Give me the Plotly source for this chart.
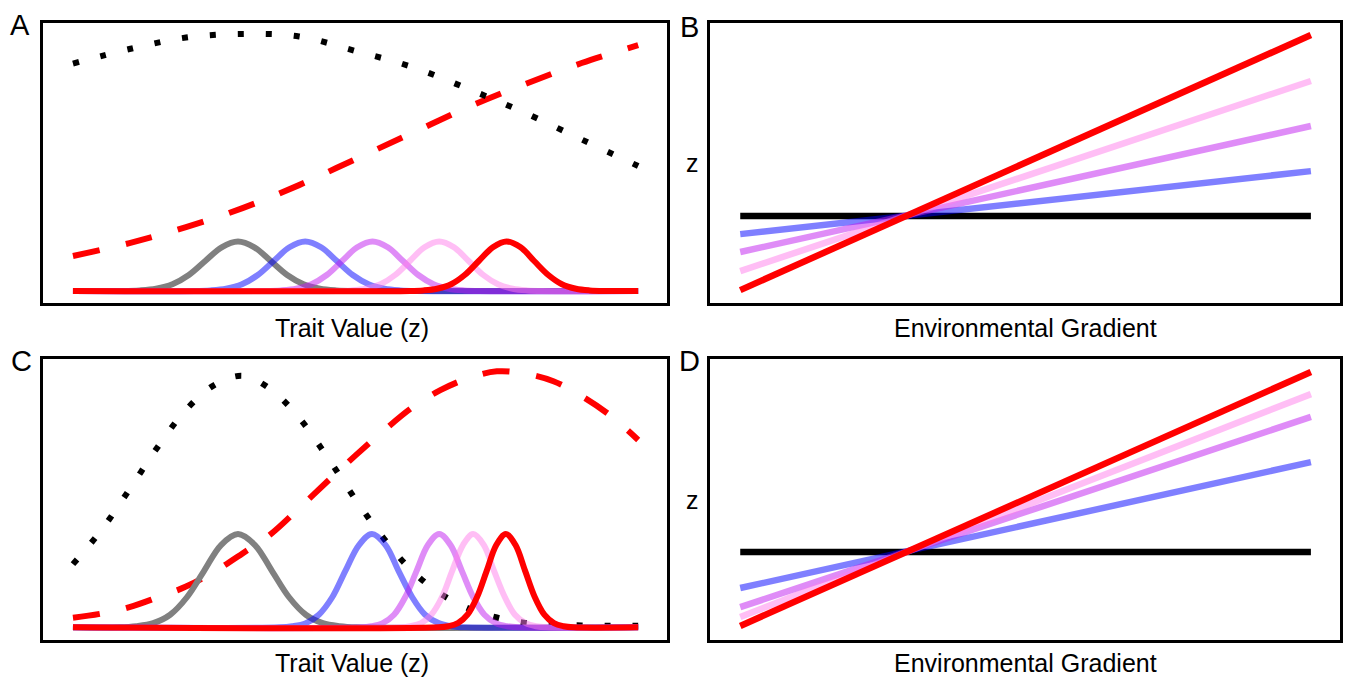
import plotly.graph_objects as go

# ---------------- Panel A (trait value distributions) ----------------
A_curve_x = [0, 1, 2, 3, 4, 5, 6, 7, 8, 9, 10]
A_fitness_dotted = [85.5, 90.7, 94.8, 96.1, 95.2, 90.0, 84.3, 76.4, 67.9, 58.4, 48.9]
A_fitness_dashed = [16.8, 21.4, 27.1, 33.9, 42.1, 51.4, 60.7, 70.0, 78.2, 85.7, 92.1]

A_gray_x = [0, 0.89, 1.18, 1.47, 1.76, 2.05, 2.34, 2.63, 2.92, 3.21, 3.5, 3.79, 4.08, 4.37, 4.66, 4.95, 10]
A_blue_x = [0, 2.15, 2.43, 2.71, 2.99, 3.27, 3.55, 3.83, 4.11, 4.39, 4.67, 4.95, 5.23, 5.51, 5.79, 6.07, 10]
A_violet_x = [0, 3.41, 3.68, 3.95, 4.22, 4.49, 4.76, 5.03, 5.3, 5.57, 5.84, 6.11, 6.38, 6.65, 6.92, 7.19, 10]
A_pink_x = [0, 4.66, 4.92, 5.18, 5.44, 5.7, 5.96, 6.22, 6.48, 6.74, 7.0, 7.26, 7.52, 7.78, 8.04, 8.3, 10]
A_red_x = [0, 5.96, 6.2, 6.44, 6.69, 6.93, 7.18, 7.43, 7.67, 7.92, 8.16, 8.41, 8.65, 8.9, 9.14, 9.39, 10]
A_gray_y = [4.3, 4.3, 4.5, 5.1, 6.7, 10.0, 15.0, 19.9, 22.0, 19.9, 15.0, 10.0, 6.7, 5.1, 4.5, 4.3, 4.3]
A_blue_y = [4.3, 4.3, 4.5, 5.1, 6.7, 10.0, 15.0, 19.9, 22.0, 19.9, 15.0, 10.0, 6.7, 5.1, 4.5, 4.3, 4.3]
A_violet_y = [4.3, 4.3, 4.5, 5.1, 6.7, 10.0, 15.0, 19.9, 22.0, 19.9, 15.0, 10.0, 6.7, 5.1, 4.5, 4.3, 4.3]
A_pink_y = [4.3, 4.3, 4.5, 5.1, 6.7, 10.0, 15.0, 19.9, 22.0, 19.9, 15.0, 10.0, 6.7, 5.1, 4.5, 4.3, 4.3]
A_red_y = [4.3, 4.3, 4.5, 5.1, 6.7, 10.0, 15.0, 19.9, 22.0, 19.9, 15.0, 10.0, 6.7, 5.1, 4.5, 4.3, 4.3]

# ---------------- Panel C (trait value distributions) ----------------
C_curve_x = [0, 0.5, 1, 1.5, 2, 2.5, 3, 3.5, 4, 4.5, 5, 5.5, 6, 6.5, 7, 7.5, 8, 8.5, 9, 9.5, 10]
C_fitness_dotted = [27.0, 39.0, 53.6, 68.7, 81.9, 90.7, 94.0, 89.2, 79.1, 65.1, 50.0, 36.1, 24.6,
                    16.5, 11.2, 8.0, 6.1, 5.4, 5.2, 5.1, 5.1]
C_fitness_dashed = [7.9, 9.4, 11.7, 15.2, 19.0, 24.3, 30.8, 37.7, 46.9, 56.4, 65.7, 74.5, 82.7,
                    88.9, 93.2, 95.6, 94.8, 92.1, 86.8, 80.0, 71.2]

C_gray_x = [0, 0.82, 1.12, 1.42, 1.72, 2.02, 2.32, 2.62, 2.92, 3.22, 3.52, 3.82, 4.12, 4.42, 4.72, 5.02, 10]
C_blue_x = [0, 3.65, 3.88, 4.12, 4.35, 4.59, 4.82, 5.06, 5.29, 5.53, 5.76, 6.0, 6.23, 6.47, 6.7, 6.94, 10]
C_violet_x = [0, 5.08, 5.28, 5.48, 5.68, 5.88, 6.08, 6.28, 6.48, 6.68, 6.88, 7.08, 7.28, 7.48, 7.68, 7.88, 10]
C_pink_x = [0, 5.79, 5.97, 6.16, 6.34, 6.53, 6.71, 6.9, 7.08, 7.27, 7.45, 7.64, 7.82, 8.01, 8.19, 8.38, 10]
C_red_x = [0, 6.47, 6.64, 6.81, 6.98, 7.15, 7.32, 7.49, 7.66, 7.83, 8.0, 8.17, 8.34, 8.51, 8.68, 8.85, 10]
C_gray_y = [4.5, 4.5, 4.9, 6.0, 9.0, 15.3, 24.6, 33.8, 37.7, 33.8, 24.6, 15.3, 9.0, 6.0, 4.9, 4.5, 4.5]
C_blue_y = [4.5, 4.5, 4.9, 6.0, 9.0, 15.3, 24.6, 33.8, 37.7, 33.8, 24.6, 15.3, 9.0, 6.0, 4.9, 4.5, 4.5]
C_violet_y = [4.5, 4.5, 4.9, 6.0, 9.0, 15.3, 24.6, 33.8, 37.7, 33.8, 24.6, 15.3, 9.0, 6.0, 4.9, 4.5, 4.5]
C_pink_y = [4.5, 4.5, 4.9, 6.0, 9.0, 15.3, 24.6, 33.8, 37.7, 33.8, 24.6, 15.3, 9.0, 6.0, 4.9, 4.5, 4.5]
C_red_y = [4.5, 4.5, 4.9, 6.0, 9.0, 15.3, 24.6, 33.8, 37.7, 33.8, 24.6, 15.3, 9.0, 6.0, 4.9, 4.5, 4.5]

# ---------------- Panels B and D (reaction norms) ----------------
gradient_x = [0, 10]
B_black = [31.1, 31.1]
B_blue = [24.6, 47.1]
B_violet = [18.2, 63.2]
B_pink = [11.4, 79.3]
B_red = [4.6, 95.7]
D_black = [31.3, 31.3]
D_blue = [18.5, 63.3]
D_violet = [11.7, 79.4]
D_pink = [8.2, 87.5]
D_red = [5.0, 95.4]

panel_labels = ["A", "B", "C", "D"]
trait_title = "Trait Value (z)"
gradient_title = "Environmental Gradient"
z_title = "z"

# ---------------- styles ----------------
GRAY = "#808080"
BLUE = "rgba(0,0,255,0.5)"
VIOLET = "rgba(192,26,240,0.5)"
PINK = "rgba(255,125,235,0.5)"
RED = "#ff0000"
LW = 6
FONT = "Liberation Sans, Arial, Helvetica, sans-serif"

W, H = 1345, 677
boxes = {
    "A": (43, 667, 23, 303),
    "B": (710, 1340, 23, 303),
    "C": (43, 667, 359, 640),
    "D": (710, 1340, 359, 640),
}


def dom(b):
    l, r, t, bt = b
    return [l / W, r / W], [1 - bt / H, 1 - t / H]


fig = go.Figure()


def line(x, y, color, ax, dash=None, width=LW, spline=True):
    fig.add_trace(go.Scatter(
        x=x, y=y, mode="lines", xaxis="x" + ax, yaxis="y" + ax,
        line=dict(color=color, width=width, dash=dash,
                  shape="spline" if spline else "linear", smoothing=1.0),
        hoverinfo="skip", showlegend=False))


# Panel A
line(A_curve_x, A_fitness_dashed, RED, "", dash="27px,27px")
line(A_curve_x, A_fitness_dotted, "black", "", dash="6px,22px")
line(A_gray_x, A_gray_y, GRAY, "")
line(A_blue_x, A_blue_y, BLUE, "")
line(A_violet_x, A_violet_y, VIOLET, "")
line(A_pink_x, A_pink_y, PINK, "")
line(A_red_x, A_red_y, RED, "")

# Panel B
line(gradient_x, B_black, "black", "2", width=6.5, spline=False)
line(gradient_x, B_blue, BLUE, "2", width=6.5, spline=False)
line(gradient_x, B_violet, VIOLET, "2", width=6.5, spline=False)
line(gradient_x, B_pink, PINK, "2", width=6.5, spline=False)
line(gradient_x, B_red, RED, "2", width=6.5, spline=False)

# Panel C
line(C_curve_x, C_fitness_dashed, RED, "3", dash="27px,27px")
line(C_curve_x, C_fitness_dotted, "black", "3", dash="6px,22px")
line(C_gray_x, C_gray_y, GRAY, "3")
line(C_blue_x, C_blue_y, BLUE, "3")
line(C_violet_x, C_violet_y, VIOLET, "3")
line(C_pink_x, C_pink_y, PINK, "3")
line(C_red_x, C_red_y, RED, "3")

# Panel D
line(gradient_x, D_black, "black", "4", width=6.5, spline=False)
line(gradient_x, D_blue, BLUE, "4", width=6.5, spline=False)
line(gradient_x, D_violet, VIOLET, "4", width=6.5, spline=False)
line(gradient_x, D_pink, PINK, "4", width=6.5, spline=False)
line(gradient_x, D_red, RED, "4", width=6.5, spline=False)

layout = dict(
    width=W, height=H, margin=dict(l=0, r=0, t=0, b=0),
    paper_bgcolor="white", plot_bgcolor="white", showlegend=False,
    font=dict(family=FONT, color="black"),
)
axis_common = dict(showgrid=False, zeroline=False, showticklabels=False, ticks="",
                   showline=True, linecolor="black", linewidth=3, mirror=True, fixedrange=True)
for i, key in enumerate(["A", "B", "C", "D"]):
    xd, yd = dom(boxes[key])
    sfx = "" if i == 0 else str(i + 1)
    layout["xaxis" + sfx] = dict(domain=xd, range=[-0.53, 10.51], anchor="y" + sfx, **axis_common)
    layout["yaxis" + sfx] = dict(domain=yd, range=[0, 100], anchor="x" + sfx, **axis_common)

annotations = []
label_pos = {"A": (20, 25), "B": (689, 27), "C": (21, 361), "D": (689, 361)}
for lab in panel_labels:
    px, py = label_pos[lab]
    annotations.append(dict(text=lab, x=px / W, y=1 - py / H, xref="paper", yref="paper",
                            xanchor="center", yanchor="middle", showarrow=False,
                            font=dict(size=29, family=FONT, color="black")))
for (cx, cy, txt) in [(352, 328, trait_title), (352, 663, trait_title),
                      (1025, 328, gradient_title), (1025, 663, gradient_title),
                      (692, 163, z_title), (692, 500, z_title)]:
    annotations.append(dict(text=txt, x=cx / W, y=1 - cy / H, xref="paper", yref="paper",
                            xanchor="center", yanchor="middle", showarrow=False,
                            font=dict(size=25, family=FONT, color="black")))
layout["annotations"] = annotations
fig.update_layout(**layout)

fig.write_html("out.html", config={"displayModeBar": False})
